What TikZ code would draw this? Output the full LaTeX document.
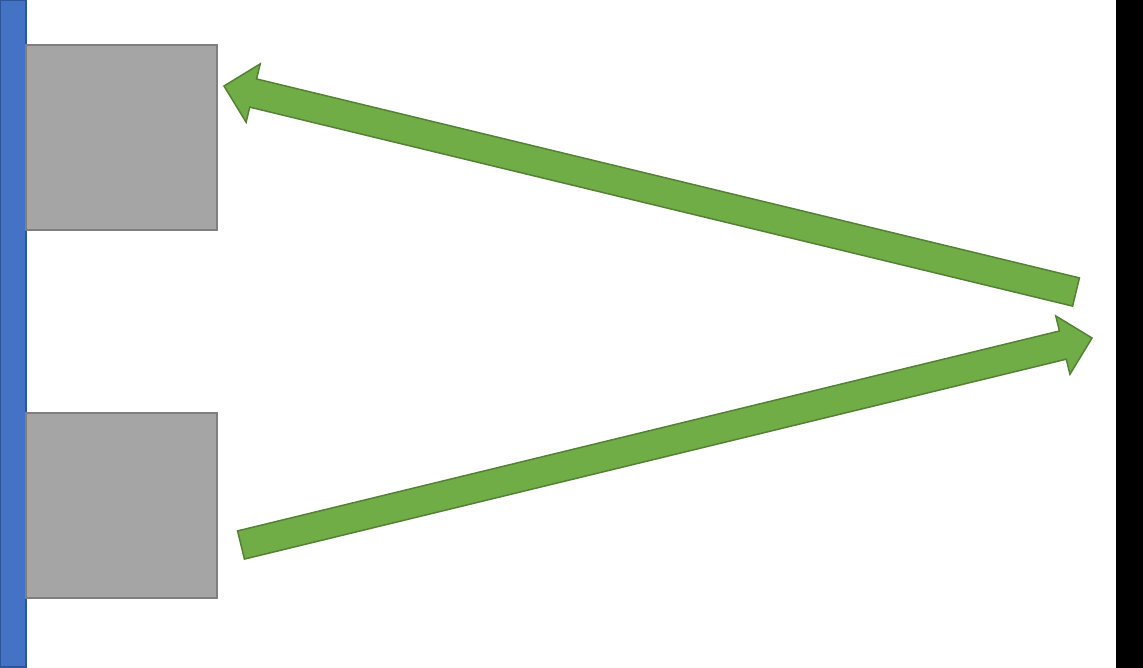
\documentclass[tikz,border=0pt]{standalone}
\usetikzlibrary{calc}
\definecolor{barblue}{HTML}{4472C4}
\definecolor{barblueedge}{HTML}{2F5597}
\definecolor{boxgray}{HTML}{A5A5A5}
\definecolor{boxedge}{HTML}{7F7F7F}
\definecolor{arrowgreen}{HTML}{70AD47}
\definecolor{arrowedge}{HTML}{548235}
\tikzset{
  wallbar/.style={fill=barblue,draw=barblueedge,line width=1.2pt},
  graybox/.style={fill=boxgray,draw=boxedge,line width=1.5pt},
  greenarrow/.style={fill=arrowgreen,draw=arrowedge,line width=1.5pt,line join=miter}
}
\newcommand{\blockarrow}[2]{%
  \coordinate (#2base) at ($(#2)!30pt!(#1)$);
  \path[greenarrow]
    ($(#1)!14.5pt!90:(#2)$) -- ($(#2base)!14.5pt!90:(#2)$) --
    ($(#2base)!30pt!90:(#2)$) -- (#2) --
    ($(#2base)!30pt!-90:(#2)$) -- ($(#2base)!14.5pt!-90:(#2)$) --
    ($(#1)!14.5pt!-90:(#2)$) -- cycle;
}
\begin{document}
\begin{tikzpicture}[x=1pt,y=-1pt]
\useasboundingbox (0,0) rectangle (1143,668);
\fill[white] (0,0) rectangle (1143,668);
% right black bar
\fill[black] (1116,0) rectangle (1143,668);
% left blue wall
\path[wallbar] (0.6,0) rectangle (26,667);
% gray boxes
\path[graybox] (26,45) rectangle (217,230);
\path[graybox] (26,413) rectangle (217,598);
% arrows
\coordinate (tailA) at (1076,292);
\coordinate (tipA) at (224,86);
\coordinate (tailB) at (241,545);
\coordinate (tipB) at (1092,338);
\blockarrow{tailA}{tipA}
\blockarrow{tailB}{tipB}
\end{tikzpicture}
\end{document}
